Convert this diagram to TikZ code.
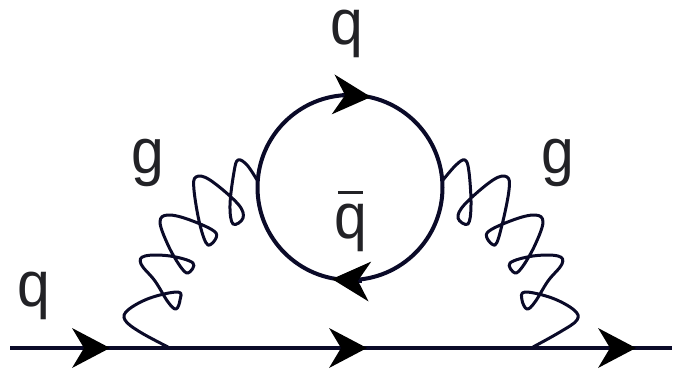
\documentclass[tikz,border=0pt]{standalone}
\usepackage{fontspec}
\setmainfont{Liberation Sans}
\usetikzlibrary{arrows.meta}
\definecolor{ink}{HTML}{0A0A28}
\definecolor{labelink}{HTML}{222226}
\tikzset{
  fermion/.style={draw=ink,line width=4pt},
  flow/.style={fermion,-{Stealth[length=38pt,width=40pt,inset=12pt,fill=black,color=black,line width=0pt]}},
  gluon/.style={draw=ink,line width=3pt,line join=round},
  lbl/.style={text=labelink,font=\fontsize{64}{64}\selectfont,anchor=base,inner sep=0pt,xscale=0.92}
}
\begin{document}
\begin{tikzpicture}[x=1pt,y=-1pt]
\useasboundingbox[fill=white] (0,0) rectangle (683,370);
% fermion line
\coordinate (start) at (10,348);
\coordinate (tipA) at (110,348);
\coordinate (tipB) at (367,348);
\coordinate (tipC) at (636,348);
\coordinate (stop) at (672,348);
\draw[fermion] (start) -- (stop);
\draw[flow] (start) -- (tipA);
\draw[flow] (tipA) -- (tipB);
\draw[flow] (tipB) -- (tipC);
% loop
\node[circle,fermion,minimum size=185pt,inner sep=0pt] (loop) at (350,187.5) {};
\coordinate (tailT) at (342,95);
\coordinate (tipT) at (371,97);
\coordinate (tailB) at (362,281);
\coordinate (tipB2) at (332,279);
\draw[flow] (tailT) -- (tipT);
\draw[flow] (tailB) -- (tipB2);
% gluons
\draw[gluon] plot[smooth,tension=0.62] coordinates {
 (168,347) (140,332) (125,320) (128,310) (150,298) (178,292) (180,300) (176,309) (168,302) (155,281)
 (141,264) (145,256) (170,256) (193,263) (188,273) (180,266) (168,245) (160,222) (168,215) (190,220) (216,233) (208,245)
 (200,225) (194,190) (196,177) (210,180) (238,204) (243,218) (233,224) (230,205) (234,172) (238,160) (247,165) (257,180)};
\draw[gluon] plot[smooth,tension=0.62] coordinates {
 (533,347) (560,332) (577,320) (574,310) (552,298) (525,292) (522,300) (527,309) (535,302) (548,281)
 (562,264) (558,256) (533,256) (510,263) (515,273) (523,266) (535,245) (543,222) (535,215) (513,220) (487,233) (495,245)
 (502,225) (509,190) (507,177) (493,180) (465,204) (458,218) (468,224) (471,205) (469,172) (465,160) (456,165) (443,180)};
% labels
\node[lbl] (qtop) at (347,44) {q};
\node[lbl] (qbar) at (351,238) {q\llap{\raisebox{0.69em}{\rule{0.43em}{0.05em}}\kern0.07em}};
\node[lbl] (gl) at (148,173) {g};
\node[lbl] (gr) at (558,173) {g};
\node[lbl] (qin) at (34,306) {q};
\end{tikzpicture}
\end{document}
